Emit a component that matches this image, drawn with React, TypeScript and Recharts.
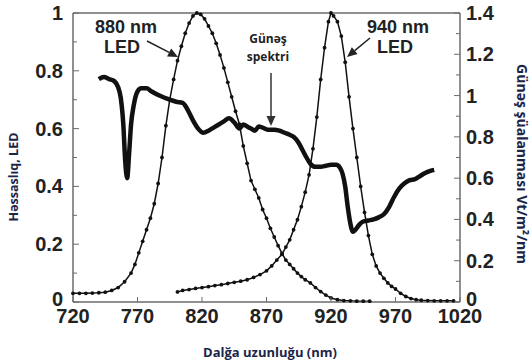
import React from "react";
import {
  LineChart,
  Line,
  XAxis,
  YAxis,
  ReferenceLine,
  Customized,
} from "recharts";

// 880 nm LED (sol ox, nisbi həssaslıq)
const led880Nm = [
  720, 725, 730, 735, 740, 745, 750, 755, 760, 765, 768, 771, 774, 777, 780, 783, 786, 789, 792,
  795, 798, 801, 804, 807, 810, 813, 816, 819, 822, 825, 828, 831, 834, 837, 840, 843, 846, 849,
  852, 855, 858, 861, 864, 867, 870, 873, 876, 879, 882, 885, 888, 891, 894, 897, 900, 904, 908,
  912, 916, 920, 925, 930, 935, 940, 945, 950,
];
const led880Val = [
  0.03, 0.03, 0.03, 0.031, 0.032, 0.034, 0.04, 0.05, 0.07, 0.1, 0.13, 0.17, 0.21, 0.25, 0.29,
  0.34, 0.41, 0.5, 0.61, 0.7, 0.77, 0.835, 0.885, 0.93, 0.965, 0.99, 1.0, 0.995, 0.98, 0.955,
  0.93, 0.895, 0.855, 0.81, 0.76, 0.71, 0.66, 0.615, 0.54, 0.48, 0.42, 0.39, 0.36, 0.32, 0.29,
  0.255, 0.225, 0.195, 0.168, 0.145, 0.13, 0.115, 0.1, 0.088, 0.077, 0.066, 0.05, 0.036, 0.024,
  0.014, 0.008, 0.005, 0.004, 0.003, 0.003, 0.003,
];

// 940 nm LED
const led940Nm = [
  801, 805, 810, 815, 820, 825, 830, 835, 840, 845, 850, 855, 860, 865, 870, 874, 878, 882, 885,
  888, 891, 894, 897, 900, 903, 906, 909, 912, 915, 918, 920, 922, 925, 928, 931, 934, 937, 940,
  943, 946, 949, 952, 955, 958, 961, 964, 967, 970, 974, 978, 982, 986, 990, 995, 1000, 1005,
  1010, 1015,
];
const led940Val = [
  0.035, 0.04, 0.043, 0.047, 0.05, 0.053, 0.057, 0.06, 0.064, 0.068, 0.072, 0.077, 0.085, 0.095,
  0.108, 0.125, 0.145, 0.165, 0.19, 0.215, 0.25, 0.285, 0.33, 0.38, 0.44, 0.53, 0.64, 0.77, 0.88,
  0.97, 1.0, 0.99, 0.97, 0.92, 0.83, 0.71, 0.6, 0.5, 0.4, 0.31, 0.23, 0.165, 0.125, 0.1, 0.082,
  0.066, 0.054, 0.045, 0.03, 0.019, 0.012, 0.008, 0.006, 0.005, 0.004, 0.004, 0.004, 0.004,
];

// Günəş spektri (sağ ox, Vt/m²/nm)
const solarNm = [
  740, 744, 748, 752, 755, 757, 759, 760.5, 762, 763.5, 765, 767, 770, 773, 777, 781, 787, 795,
  800, 805, 809, 813, 817, 821, 825, 829, 833, 837, 841, 845, 849, 852, 855, 858, 861, 864, 867,
  871, 876, 880, 884, 888, 891, 895, 898, 901, 904, 908, 912, 916, 920, 924, 927, 929, 931, 933,
  935, 937, 939, 942, 945, 949, 953, 957, 961, 965, 969, 973, 977, 981, 985, 989, 993, 997, 1000,
];
const solarVal = [
  1.08, 1.09, 1.08, 1.07, 1.04, 0.99, 0.86, 0.68, 0.6, 0.72, 0.86, 0.95, 1.02, 1.035, 1.035,
  1.02, 1.0, 0.98, 0.97, 0.965, 0.93, 0.88, 0.84, 0.82, 0.83, 0.845, 0.86, 0.875, 0.89, 0.87,
  0.84, 0.86, 0.85, 0.84, 0.83, 0.85, 0.845, 0.835, 0.835, 0.83, 0.82, 0.81, 0.8, 0.77, 0.735,
  0.7, 0.67, 0.655, 0.655, 0.66, 0.665, 0.665, 0.65, 0.62, 0.56, 0.46, 0.38, 0.34, 0.35, 0.375,
  0.39, 0.395, 0.4, 0.41, 0.425, 0.46, 0.51, 0.55, 0.575, 0.59, 0.595, 0.61, 0.625, 0.635, 0.64,
];

const xTicks = [720, 770, 820, 870, 920, 970, 1020];
const leftTicks = [0, 0.1, 0.2, 0.3, 0.4, 0.5, 0.6, 0.7, 0.8, 0.9, 1];
const rightTicks = [0, 0.1, 0.2, 0.3, 0.4, 0.5, 0.6, 0.7, 0.8, 0.9, 1, 1.1, 1.2, 1.3, 1.4];

const led880 = led880Nm.map((nm, i) => ({ nm, v: led880Val[i] }));
const led940 = led940Nm.map((nm, i) => ({ nm, v: led940Val[i] }));
const solar = solarNm.map((nm, i) => ({ nm, v: solarVal[i] }));

const AXIS = "#6b6b6b";
const TICK_FONT = "'Liberation Sans', Arial, sans-serif";
const TITLE = "#1b2548";

const isMajor = (v: number) => Math.round(v * 10) % 2 === 0;
const fmt = (v: number) => String(Math.round(v * 10) / 10);
// "0" sits a little higher so it clears the x labels
const dy = (v: number) => (v === 0 ? 4 : 7);

const XTick = (p: any) => (
  <g>
    <line x1={p.x} x2={p.x} y1={p.y} y2={p.y - 5} stroke={AXIS} />
    <text x={p.x} y={p.y + 21} textAnchor="middle" fontFamily={TICK_FONT} fontWeight="bold"
      fontSize={20} fill="#222">{p.payload.value}</text>
  </g>
);

const LeftTick = (p: any) => {
  const major = isMajor(p.payload.value);
  return (
    <g>
      <line x1={p.x} x2={p.x + (major ? 6 : 4)} y1={p.y} y2={p.y} stroke={AXIS} />
      {major && (
        <text x={p.x - 10} y={p.y + dy(p.payload.value)} textAnchor="end" fontFamily={TICK_FONT}
          fontWeight="bold" fontSize={20} fill="#222">{fmt(p.payload.value)}</text>
      )}
    </g>
  );
};

const RightTick = (p: any) => {
  const major = isMajor(p.payload.value);
  return (
    <g>
      <line x1={p.x} x2={p.x - (major ? 6 : 4)} y1={p.y} y2={p.y} stroke={AXIS} />
      {major && (
        <text x={p.x + 6} y={p.y + dy(p.payload.value)} textAnchor="start" fontFamily={TICK_FONT}
          fontWeight="bold" fontSize={20} fill="#222">{fmt(p.payload.value)}</text>
      )}
    </g>
  );
};

function Arrow({ x1, y1, x2, y2, color }: { x1: number; y1: number; x2: number; y2: number; color: string }) {
  const a = Math.atan2(y2 - y1, x2 - x1);
  const L = 10;
  const W = 4.5;
  const bx = x2 - L * Math.cos(a);
  const by = y2 - L * Math.sin(a);
  const px = -Math.sin(a) * W;
  const py = Math.cos(a) * W;
  return (
    <g>
      <line x1={x1} y1={y1} x2={bx} y2={by} stroke={color} strokeWidth={1.5} />
      <polygon points={`${x2},${y2} ${bx + px},${by + py} ${bx - px},${by - py}`} fill={color} />
    </g>
  );
}

const Notes = () => (
  <g>
    <text x={126} y={33} textAnchor="middle" fontFamily={TICK_FONT} fontWeight="bold" fontSize={18} fill="#222">880 nm</text>
    <text x={122} y={53} textAnchor="middle" fontFamily={TICK_FONT} fontWeight="bold" fontSize={18} fill="#222">LED</text>
    <Arrow x1={147} y1={41} x2={178} y2={57} color="#222" />

    <text x={268} y={43} textAnchor="middle" fontFamily="'Open Sans', sans-serif" fontWeight="bold" fontSize={12} fill="#222">Günəş</text>
    <text x={268} y={61} textAnchor="middle" fontFamily="'Open Sans', sans-serif" fontWeight="bold" fontSize={12} fill="#222">spektri</text>
    <Arrow x1={271} y1={73} x2={271} y2={126} color="#333" />

    <text x={398} y={33} textAnchor="middle" fontFamily={TICK_FONT} fontWeight="bold" fontSize={18} fill="#222">940 nm</text>
    <text x={395} y={53} textAnchor="middle" fontFamily={TICK_FONT} fontWeight="bold" fontSize={18} fill="#222">LED</text>
    <Arrow x1={370} y1={38} x2={347} y2={57} color="#222" />

    <text x={270} y={357} textAnchor="middle" fontFamily="'Open Sans', sans-serif" fontWeight="bold" fontSize={13} fill={TITLE}>Dalğa uzunluğu (nm)</text>
    <text transform="translate(18,177) rotate(-90)" textAnchor="middle" fontFamily="'Open Sans', sans-serif" fontWeight="bold" fontSize={12.5} fill={TITLE}>Həssaslıq, LED</text>
    <text transform="translate(517,164) rotate(90)" textAnchor="middle" fontFamily="'Open Sans', sans-serif" fontWeight="bold" fontSize={14} fill={TITLE}>Günəş şüalanması Vt/m²/nm</text>
  </g>
);

export default function App() {
  return (
    <div style={{ position: "absolute", left: 0, top: 0, width: 531, height: 364, background: "#fff" }}>
      <LineChart width={531} height={364} margin={{ top: 13, right: 0, bottom: 0, left: 0 }}>
        <XAxis
          dataKey="nm"
          type="number"
          domain={[720, 1020]}
          ticks={xTicks}
          interval={0}
          allowDuplicatedCategory={false}
          height={62}
          tickSize={0}
          tickMargin={0}
          tickLine={false}
          axisLine={{ stroke: AXIS, strokeWidth: 1.5 }}
          tick={<XTick />}
        />
        <YAxis
          yAxisId="left"
          orientation="left"
          domain={[0, 1]}
          ticks={leftTicks}
          interval={0}
          width={73}
          tickSize={0}
          tickMargin={0}
          tickLine={false}
          axisLine={{ stroke: AXIS, strokeWidth: 1.5 }}
          tick={<LeftTick />}
        />
        <YAxis
          yAxisId="right"
          orientation="right"
          domain={[0, 1.4]}
          ticks={rightTicks}
          interval={0}
          width={71}
          tickSize={0}
          tickMargin={0}
          tickLine={false}
          axisLine={{ stroke: AXIS, strokeWidth: 1.5 }}
          tick={<RightTick />}
        />
        <ReferenceLine yAxisId="left" y={1} stroke={AXIS} strokeWidth={1.5} />
        <Line
          yAxisId="right"
          data={solar}
          dataKey="v"
          type="monotone"
          stroke="#111"
          strokeWidth={4.5}
          dot={false}
          isAnimationActive={false}
        />
        <Line
          yAxisId="left"
          data={led880}
          dataKey="v"
          type="linear"
          stroke="#111"
          strokeWidth={1.5}
          dot={{ r: 1.9, fill: "#111", stroke: "none" }}
          isAnimationActive={false}
        />
        <Line
          yAxisId="left"
          data={led940}
          dataKey="v"
          type="linear"
          stroke="#111"
          strokeWidth={1.5}
          dot={{ r: 1.9, fill: "#111", stroke: "none" }}
          isAnimationActive={false}
        />
        <Customized component={Notes} />
      </LineChart>
    </div>
  );
}
